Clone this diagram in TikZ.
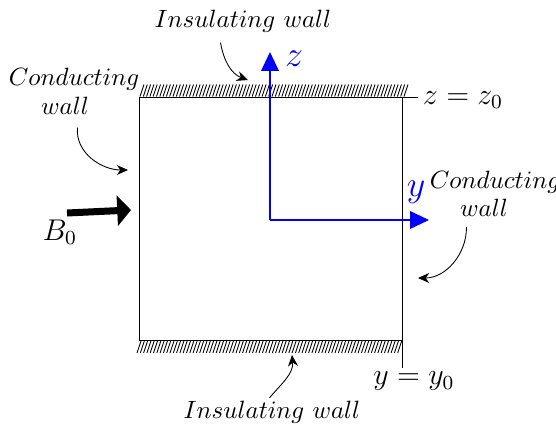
\documentclass[tikz,border=0pt]{standalone}
\usetikzlibrary{arrows.meta}
\begin{document}
\begin{tikzpicture}[x=0.4pt,y=-0.4pt,
  wall/.style={line width=0.4pt},
  hatch/.style={line width=0.35pt},
  annot/.style={-{Stealth[length=4.5pt,width=4pt]},line width=0.35pt},
  axis/.style={blue,line width=0.55pt,-{Triangle[length=7.5pt,width=7pt]}},
  lbl/.style={inner sep=1pt},
  clbl/.style={inner sep=1pt,font=\fontsize{9.6}{11}\selectfont},
]
\useasboundingbox (0,0) rectangle (556,428);
% box corners
\coordinate (tl) at (140,97.5);
\coordinate (tr) at (403,97.5);
\coordinate (bl) at (140,340);
\coordinate (br) at (403,340);
\coordinate (tz) at (418,97.5);
\coordinate (by) at (403,368);
\draw[wall] (tz) -- (tl) -- (bl) -- (br) -- (by);
\draw[wall] (tr) -- (br);
% hatches
\foreach \x in {140,143.3,...,405} \draw[hatch] (\x,96.5) -- (\x+4,84.5);
\foreach \x in {137,140.3,...,401} \draw[hatch] (\x,353) -- (\x+4,341);
% axes
\coordinate (o) at (270,220);
\coordinate (zt) at (270,52);
\coordinate (yt) at (429,220);
\draw[axis] (o) -- (zt);
\draw[axis] (o) -- (yt);
\node[lbl,blue,font=\Large] (zl) at (294,59) {$z$};
\node[lbl,blue,font=\Large] (yl) at (416,192) {$y$};
% B0
\node[lbl,font=\large] (b0) at (60,232) {$B_0$};
\coordinate (bs) at (67,213);
\coordinate (be) at (131,210);
\draw[line width=2.8pt,-{Triangle[length=5.5pt,width=12pt]}] (bs) -- (be);
% labels
\node[lbl,anchor=west,font=\large] (zz) at (420,100) {$z=z_0$};
\node[lbl,font=\large] (yy) at (414,381) {$y=y_0$};
\node[lbl] (itop) at (243,21) {$Insulating\ wall$};
\node[lbl] (ibot) at (272,412) {$Insulating\ wall$};
\node[clbl] (cleft1) at (74,79) {$Conducting$};
\node[clbl] (cleft2) at (65,106) {$wall$};
\node[clbl] (cright1) at (495,182) {$Conducting$};
\node[clbl] (cright2) at (484,208) {$wall$};
% annotation arrows
\coordinate (a1e) at (248,80);
\draw[annot] ([xshift=-9pt,yshift=-3pt]itop.south) to[out=-80,in=160] (a1e);
\coordinate (a2e) at (128,170);
\draw[annot] ([xshift=5pt,yshift=-4pt]cleft2.south) to[out=-95,in=180] (a2e);
\coordinate (a3e) at (292,355);
\draw[annot] ([xshift=-1pt]ibot.north) to[out=50,in=-85] (a3e);
\coordinate (a4e) at (418,278);
\draw[annot] ([xshift=-7pt,yshift=-3pt]cright2.south) to[out=-90,in=0] (a4e);
\end{tikzpicture}
\end{document}
